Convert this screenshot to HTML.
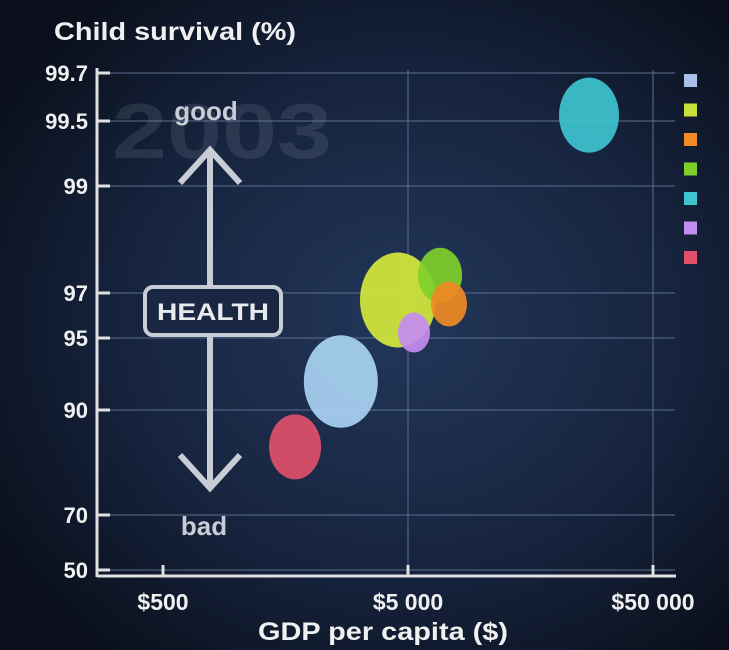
<!DOCTYPE html>
<html><head><meta charset="utf-8"><style>
html,body{margin:0;padding:0;}
body{width:729px;height:650px;overflow:hidden;background:#0c1220;font-family:"Liberation Sans",sans-serif;}
svg{display:block}
text{font-family:"Liberation Sans",sans-serif;font-weight:bold;}
</style></head><body>
<svg id="chart" width="729" height="650">
<defs>
<radialGradient id="bg" cx="0.55" cy="0.5" r="0.65">
<stop offset="0" stop-color="#23375a"/><stop offset="0.6" stop-color="#16233d"/><stop offset="1" stop-color="#0a0f1b"/>
</radialGradient>
</defs>
<rect width="729" height="650" fill="url(#bg)"/>
<g id="grid"></g>
<text x="112" y="158" font-size="78" fill="#8a96a8" fill-opacity="0.18" textLength="220" lengthAdjust="spacingAndGlyphs">2003</text>
<g id="axes"></g>
<g id="health">
<line x1="210" y1="150" x2="210" y2="488" stroke="#c8ccd4" stroke-width="6"/>
<polyline points="180,183 210,150 240,183" fill="none" stroke="#c8ccd4" stroke-width="6"/>
<polyline points="180,455 210,488 240,455" fill="none" stroke="#c8ccd4" stroke-width="6"/>
<rect x="145" y="287" width="136" height="48" rx="8" fill="#1a2742" stroke="#c8ccd4" stroke-width="4"/>
<text x="213" y="320" font-size="24" fill="#e8eaee" text-anchor="middle" textLength="112" lengthAdjust="spacingAndGlyphs">HEALTH</text>
<text x="206" y="120" font-size="26" fill="#c8ccd4" text-anchor="middle" font-weight="normal">good</text>
<text x="204" y="535" font-size="26" fill="#c8ccd4" text-anchor="middle" font-weight="normal">bad</text>
</g>
<g id="bubbles"></g>
<g id="legend"></g>
<text x="54" y="40" font-size="25" fill="#f0f0f0" textLength="242" lengthAdjust="spacingAndGlyphs">Child survival (%)</text>
<text x="258" y="640" font-size="25" fill="#f0f0f0" textLength="250" lengthAdjust="spacingAndGlyphs">GDP per capita ($)</text>
</svg>
<script>
const yTicks=[99.7,99.5,99,97,95,90,70,50];
const yTickPx=[73,121,186,293,338,410,515,570];
const xTicks=[500,5000,50000];
const xTickLabels=["$500","$5 000","$50 000"];
const gdp=[27400,4550,6760,7350,5290,2660,1730];
const survival=[99.53,96.75,97.5,96.6,95.3,92.4,85.3];
const sizes=[30,38,22,18,16,37,26];
const colors=["#3fc3cf","#d4e83a","#7fcf2a","#f08a24","#c38cf0","#a9d2f2","#e0506a"];
const legendColors=["#a9c0e8","#c8e03a","#f08a24","#7fcf2a","#3fc3cf","#c38cf0","#e0506a"];
const NS="http://www.w3.org/2000/svg";
function el(t,a,p){const e=document.createElementNS(NS,t);for(const k in a)e.setAttribute(k,a[k]);p.appendChild(e);return e;}
function xScale(v){return 163+245*Math.log10(v/500);}
function yScale(s){const m=Math.log10(100-s);const tm=yTicks.map(t=>Math.log10(100-t));
 for(let i=0;i<tm.length-1;i++){if(m<=tm[i+1]||i==tm.length-2){const f=(m-tm[i])/(tm[i+1]-tm[i]);return yTickPx[i]+f*(yTickPx[i+1]-yTickPx[i]);}}}
const grid=document.getElementById('grid'),axes=document.getElementById('axes');
yTicks.forEach((t,i)=>{const y=yScale(t);
 const g=el('line',{x1:97,x2:675,y1:y,y2:y,stroke:'#5a6c8c','stroke-width':1.5,'stroke-opacity':0.7},grid);
 
 const tk=el('line',{x1:97,x2:110,y1:y,y2:y,stroke:'#e0e0e0','stroke-width':3},axes);
 
 const tx=el('text',{x:88,y:y+8,'font-size':22,fill:'#f0f0f0','text-anchor':'end'},axes);tx.textContent=t;
 });
xTicks.forEach((t,i)=>{const x=xScale(t);
 if(i>0){const g=el('line',{x1:x,x2:x,y1:70,y2:575,stroke:'#5a6c8c','stroke-width':1.5,'stroke-opacity':0.7},grid);
 }
 const tk=el('line',{x1:x,x2:x,y1:565,y2:577,stroke:'#e0e0e0','stroke-width':3},axes);
 
 const tx=el('text',{x:x,y:610,'font-size':23,fill:'#f0f0f0','text-anchor':'middle'},axes);tx.textContent=xTickLabels[i];
 });
const ya=el('line',{x1:97,x2:97,y1:68,y2:577,stroke:'#e0e0e0','stroke-width':3},axes);

const xa=el('line',{x1:97,x2:676,y1:576,y2:576,stroke:'#e0e0e0','stroke-width':3},axes);

const bub=document.getElementById('bubbles');
gdp.forEach((g,i)=>{const b=el('ellipse',{cx:xScale(g),cy:yScale(survival[i]),rx:sizes[i],ry:sizes[i]*1.25,fill:colors[i],'fill-opacity':0.92},bub);
 });
const lg=document.getElementById('legend');
legendColors.forEach((c,i)=>{const r=el('rect',{x:684,y:74+i*29.5,width:13,height:13,fill:c},lg);
 });
</script>
</body></html>
